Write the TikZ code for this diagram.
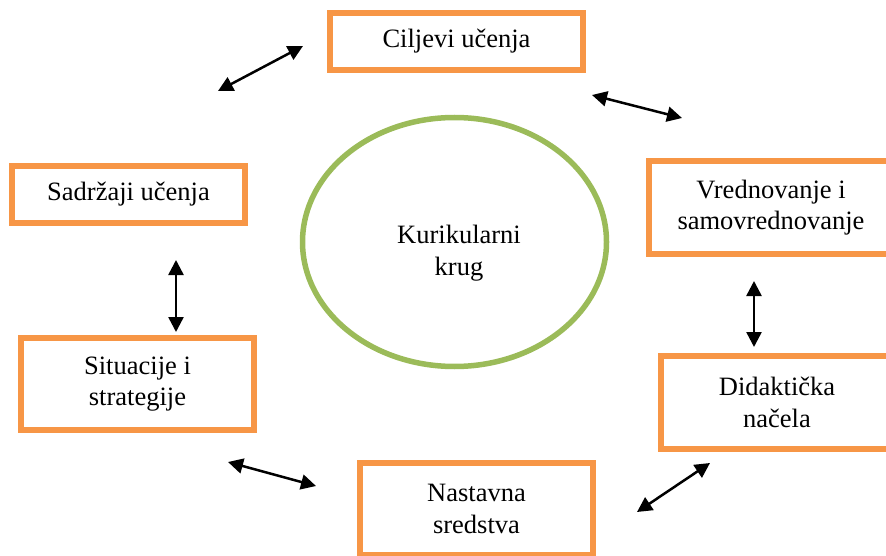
\documentclass[tikz,border=0pt]{standalone}
\usepackage{fontspec}
\setmainfont{Liberation Serif}
\usetikzlibrary{arrows.meta,shapes.geometric}
\definecolor{boxorange}{RGB}{247,150,70}
\definecolor{ringgreen}{RGB}{155,187,89}
\begin{document}
\begin{tikzpicture}[x=1pt,y=-1pt,
  box/.style={draw=boxorange, line width=6pt, fill=white, inner sep=0pt, align=center,
              font=\fontsize{26.5}{31.5}\selectfont},
  txt/.style={inner sep=0pt, align=center, font=\fontsize{26.5}{31.5}\selectfont},
  link/.style={line width=2.5pt,
               {Triangle[length=15pt,width=15pt]}-{Triangle[length=15pt,width=15pt]}}]
\useasboundingbox (0,0) rectangle (886,556);
\clip (0,0) rectangle (886,556);

% ring
\node[draw=ringgreen, line width=5.5pt, ellipse, inner sep=0pt,
      minimum width=304pt, minimum height=249pt] (ring) at (454.5,242) {};
\node[txt] (ringtext) at (459,253) {Kurikularni\\krug};

% boxes
\node[box, minimum width=253pt, minimum height=57pt] (cilj) at (456.5,41.5) {Ciljevi učenja};
\node[box, minimum width=233pt, minimum height=57pt] (sadr) at (128.5,194.5) {Sadržaji učenja};
\node[box, minimum width=244pt, minimum height=93pt] (vred) at (771,207.5) {Vrednovanje i\\samovrednovanje};
\node[box, minimum width=233pt, minimum height=92pt] (situ) at (137.5,384) {Situacije i\\strategije};
\node[box, minimum width=232pt, minimum height=93pt] (dida) at (777,402.5) {Didaktička\\načela};
\node[box, minimum width=233pt, minimum height=92pt] (nast) at (476.5,509) {Nastavna\\sredstva};

% arrow end points
\coordinate (a1s) at (218,91);  \coordinate (a1e) at (303,46);
\coordinate (a2s) at (592,95);  \coordinate (a2e) at (682,118);
\coordinate (a3s) at (176,260); \coordinate (a3e) at (176,332);
\coordinate (a4s) at (754,281); \coordinate (a4e) at (754,347);
\coordinate (a5s) at (228,462); \coordinate (a5e) at (316,486);
\coordinate (a6s) at (637,512); \coordinate (a6e) at (710,463);

\draw[link] (a1s) -- (a1e);
\draw[link] (a2s) -- (a2e);
\draw[link] (a3s) -- (a3e);
\draw[link] (a4s) -- (a4e);
\draw[link] (a5s) -- (a5e);
\draw[link] (a6s) -- (a6e);
\end{tikzpicture}
\end{document}
